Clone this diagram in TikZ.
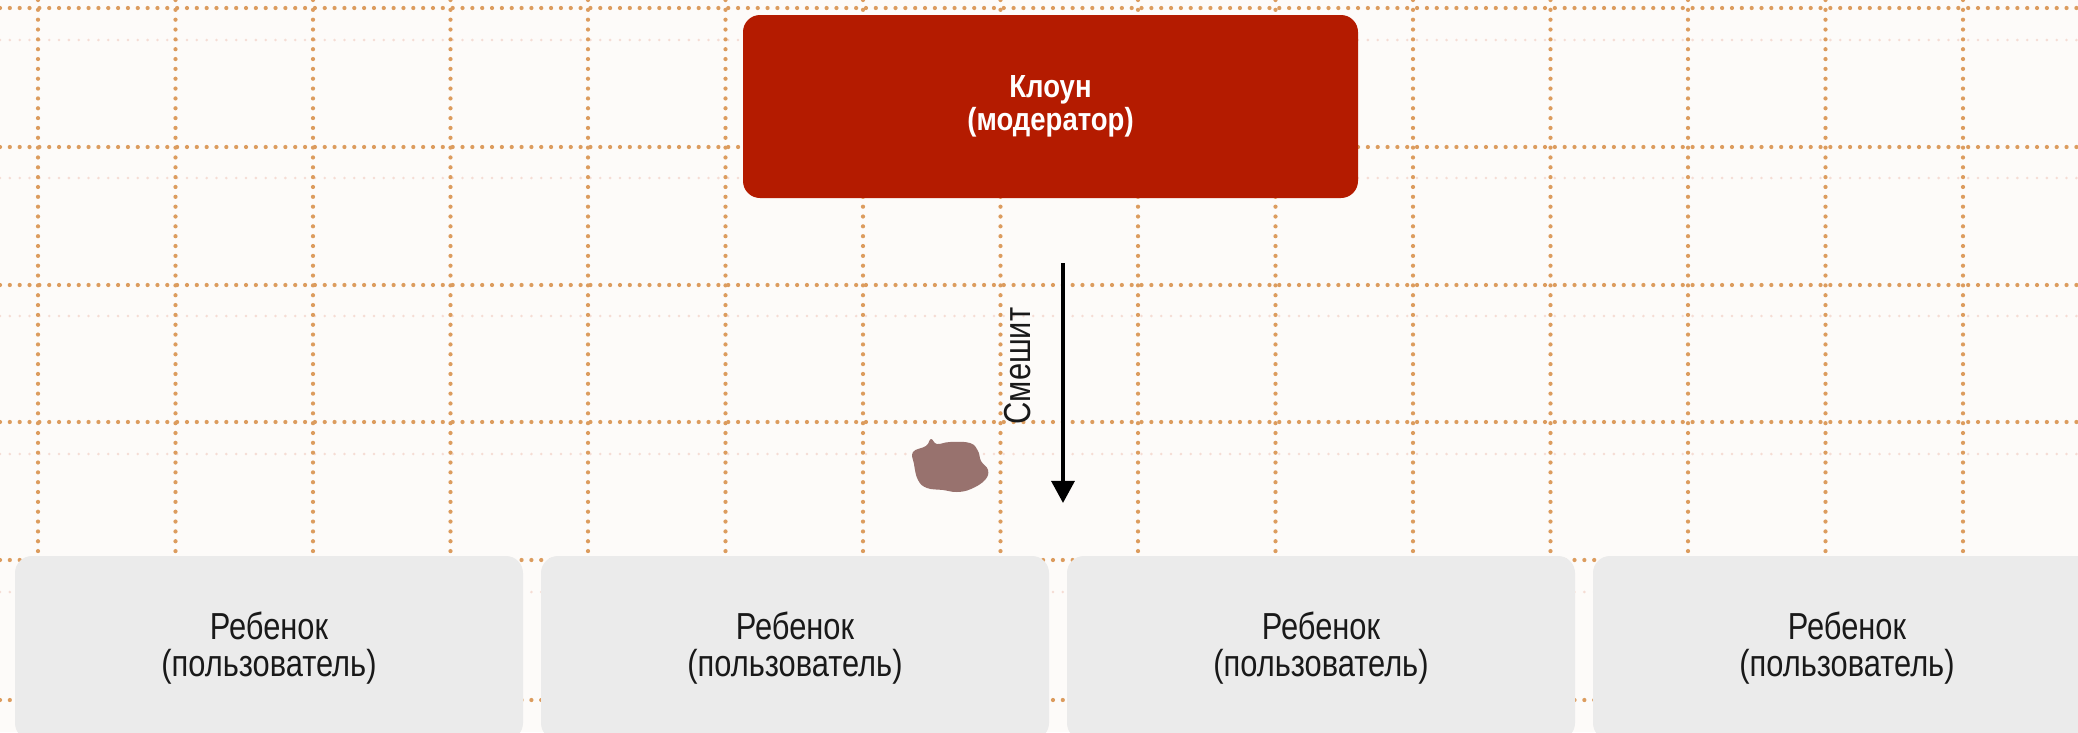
\documentclass[tikz,border=0pt]{standalone}
\usepackage{fontspec}
\setmainfont{Liberation Sans}
\newfontfamily\lblfont{Liberation Sans}[FakeStretch=0.82]
\newfontfamily\headfont{Liberation Sans}[FakeStretch=0.86]
\usetikzlibrary{arrows.meta}
\definecolor{paper}{RGB}{253,251,249}
\definecolor{gridline}{RGB}{220,156,94}
\definecolor{gridfaint}{RGB}{245,220,212}
\definecolor{clownred}{RGB}{180,27,0}
\definecolor{childgray}{RGB}{235,235,235}
\definecolor{stain}{RGB}{152,114,110}
\begin{document}
\begin{tikzpicture}[x=0.1mm,y=-0.1mm,
  gridmain/.style={gridline, line width=1.2pt, line cap=round, dash pattern=on 0pt off 2.8pt},
  gridback/.style={gridfaint, line width=0.8pt, line cap=round, dash pattern=on 0pt off 2.8pt},
  clownbox/.style={fill=clownred, rounded corners=1.7mm, minimum width=61.5mm, minimum height=18.3mm,
    text=white, align=center, inner sep=0pt,
    font=\headfont\bfseries\fontsize{9.1pt}{9.4pt}\selectfont},
  childbox/.style={fill=childgray, rounded corners=1.7mm, minimum width=50.8mm, minimum height=18.4mm,
    text=black!90, align=center, inner sep=0pt,
    font=\lblfont\fontsize{10.7pt}{10.45pt}\selectfont},
  flow/.style={-{Triangle[width=6.5pt,length=6.3pt]}, line width=1.14pt, black},
  flowlabel/.style={rotate=90, inner sep=0pt, text=black!90,
    font=\lblfont\fontsize{10.7pt}{10.45pt}\selectfont}
]
\useasboundingbox (0,0) rectangle (2078,732);
\clip (0,0) rectangle (2078,732);
\fill[paper] (0,0) rectangle (2078,732);

% graph paper: faint lines showing through, then the printed grid
\foreach \y in {40,178,316,454,592} \draw[gridback] (0,\y) -- (2078,\y);
\foreach \k in {0,...,14} \draw[gridmain] ({38+137.5*\k},0) -- ({38+137.5*\k},732);
\foreach \y in {8,147,285,422,560,700} \draw[gridmain] (0,\y) -- (2078,\y);

% stain on the paper
\fill[stain] plot[smooth cycle, tension=0.7] coordinates {
  (913,452) (926,446) (931,439) (937,444) (950,442) (970,443) (978,451)
  (981,461) (988,470) (985,480) (971,489) (957,492) (943,490) (927,488)
  (918,480) (914,464)};

% moderator
\node[clownbox] (clown) at (1050.5,106.5) {Клоун\\(модератор)};

% users
\node[childbox] (child1) at (269,648)  {Ребенок\\(пользователь)};
\node[childbox] (child2) at (795,648)  {Ребенок\\(пользователь)};
\node[childbox] (child3) at (1321,648) {Ребенок\\(пользователь)};
\node[childbox] (child4) at (1847,648) {Ребенок\\(пользователь)};

% action arrow
\coordinate (push) at (1063,263);
\coordinate (land) at (1063,503);
\draw[flow] (push) -- (land);
\node[flowlabel] (laughs) at (1018,366) {Смешит};
\end{tikzpicture}
\end{document}
